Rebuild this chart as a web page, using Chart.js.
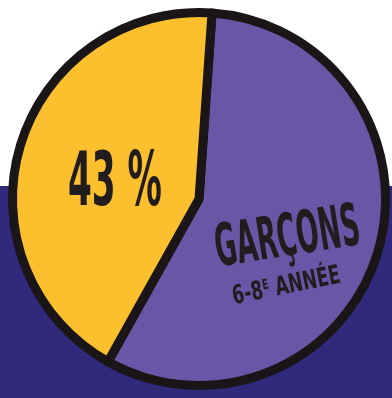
<!DOCTYPE html>
<html><head><meta charset="utf-8">
<script src="https://cdn.jsdelivr.net/npm/chart.js@4.4.0/dist/chart.umd.min.js"></script>
<style>html,body{margin:0;padding:0;background:#fff;overflow:hidden}</style>
</head><body>
<canvas id="c" width="392" height="398"></canvas>
<script>
const categories = ['Garçons 6-8e année', 'Autres'];
const values = [57, 43];
const sliceColors = ['#6a56a6', '#fcbf2e'];
const mainLabel = 'GARÇONS';
const subLabelParts = ['6-8', 'E', ' ANNÉE'];
const pctLabel = values[1] + ' %';

const INK = '#211c1e';
const BAND = '#30297c';
const FONT = '"DejaVu Sans Condensed", "DejaVu Sans", sans-serif';

function drawFitted(ctx, text, cx, cy, capH, width, angleDeg) {
  const size = capH / 0.73;
  ctx.save();
  ctx.font = 'bold ' + size + 'px ' + FONT;
  const w = ctx.measureText(text).width;
  ctx.translate(cx, cy);
  ctx.rotate(angleDeg * Math.PI / 180);
  ctx.scale(width / w, 1);
  ctx.fillStyle = INK;
  ctx.textAlign = 'center';
  ctx.textBaseline = 'alphabetic';
  ctx.fillText(text, 0, capH / 2);
  ctx.restore();
}

function drawSub(ctx, parts, cx, cy, capH, width, angleDeg) {
  const size = capH / 0.73;
  const small = size * 0.55;
  ctx.save();
  const widths = parts.map((p, i) => {
    ctx.font = 'bold ' + (i === 1 ? small : size) + 'px ' + FONT;
    return ctx.measureText(p).width;
  });
  const total = widths.reduce((a, b) => a + b, 0);
  ctx.translate(cx, cy);
  ctx.rotate(angleDeg * Math.PI / 180);
  ctx.scale(width / total, 1);
  ctx.fillStyle = INK;
  ctx.textAlign = 'left';
  ctx.textBaseline = 'alphabetic';
  let x = -total / 2;
  parts.forEach((p, i) => {
    ctx.font = 'bold ' + (i === 1 ? small : size) + 'px ' + FONT;
    const y = i === 1 ? capH / 2 - capH + small * 0.73 : capH / 2;
    ctx.fillText(p, x, y);
    x += widths[i];
  });
  ctx.restore();
}

const decor = {
  id: 'decor',
  beforeDraw(chart) {
    const ctx = chart.ctx;
    ctx.save();
    ctx.fillStyle = '#ffffff';
    ctx.fillRect(0, 0, chart.width, chart.height);
    ctx.fillStyle = BAND;
    ctx.fillRect(0, 186, chart.width, chart.height - 186);
    ctx.restore();
  },
  afterDatasetsDraw(chart) {
    const ctx = chart.ctx;
    const arc = chart.getDatasetMeta(0).data[0];
    const cx = arc.x, cy = arc.y, r = arc.outerRadius + 4.5;
    drawFitted(ctx, pctLabel, cx - 0.44 * r, cy - 0.11 * r, 55, 94, 0);
    drawFitted(ctx, mainLabel, cx + 0.46 * r, cy + 0.183 * r, 43, 146, -9);
    drawSub(ctx, subLabelParts, cx + 0.455 * r, cy + 0.445 * r, 19, 110, -11.5);
  }
};

new Chart(document.getElementById('c'), {
  type: 'pie',
  data: {
    labels: categories,
    datasets: [{
      data: values,
      backgroundColor: sliceColors,
      hoverBackgroundColor: sliceColors,
      borderColor: '#1a1617',
      hoverBorderColor: '#1a1617',
      borderWidth: 9,
      hoverBorderWidth: 9,
      borderJoinStyle: 'round'
    }]
  },
  options: {
    responsive: false,
    animation: false,
    rotation: 4,
    layout: { padding: { left: 8, right: 2, top: 8, bottom: 8 } },
    plugins: { legend: { display: false }, tooltip: { enabled: false } },
    events: []
  },
  plugins: [decor]
});
</script>
</body></html>
